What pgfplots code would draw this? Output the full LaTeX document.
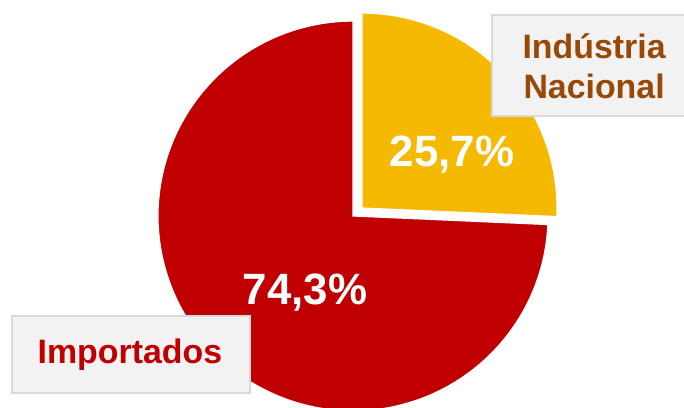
\documentclass[border=0pt]{standalone}
\usepackage{pgfplots}
\usepackage{pgfplotstable}
\usepackage{fontspec}
\setmainfont{Liberation Sans}
\pgfplotsset{compat=1.18}

\definecolor{pieRed}{HTML}{C00000}
\definecolor{pieGold}{HTML}{F4B900}
\definecolor{nacText}{HTML}{984807}
\definecolor{boxFill}{HTML}{F2F2F2}
\definecolor{boxLine}{HTML}{D9D9D9}

% share of the market, percent
\pgfplotstableread{
part value
Nacional 25.7
Importados 74.3
}\sharedata
\pgfplotstablegetelem{0}{value}\of\sharedata
\pgfmathsetmacro{\nacEnd}{90-3.6*\pgfplotsretval}

\begin{document}
\begin{tikzpicture}
\begin{axis}[
    scale only axis,
    width=684bp, height=408bp,
    xmin=-1.810, xmax=1.697,
    ymin=-0.985, ymax=1.108,
    hide axis,
]
% Importados slice
\addplot[draw=white, line width=1.2pt, fill=pieRed, mark=none,
    domain=-270:\nacEnd, samples=120, variable=\t]
    ({cos(\t)}, {sin(\t)}) -- (axis cs:0,0) -- cycle;
% Industria Nacional slice, pulled out
\addplot[draw=white, line width=1.2pt, fill=pieGold, mark=none,
    domain=\nacEnd:90, samples=60, variable=\t]
    ({0.046+cos(\t)}, {0.041+sin(\t)}) -- (axis cs:0.046,0.041) -- cycle;

\node[text=white, font=\bfseries\fontsize{44}{50}\selectfont]
    at (axis cs:0.508,0.313) {25,7\%};
\node[text=white, font=\bfseries\fontsize{44}{50}\selectfont]
    at (axis cs:-0.246,-0.395) {74,3\%};

\draw[fill=boxFill, draw=boxLine, line width=1.5bp]
    (axis cs:0.713,1.031) rectangle (axis cs:1.75,0.513);
\node[text=nacText, align=center, font=\bfseries\fontsize{34}{40}\selectfont]
    at (axis cs:1.236,0.769) {Indústria\\Nacional};

\draw[fill=boxFill, draw=boxLine, line width=1.5bp]
    (axis cs:-1.749,-0.513) rectangle (axis cs:-0.528,-0.908);
\node[text=pieRed, font=\bfseries\fontsize{34}{40}\selectfont]
    at (axis cs:-1.144,-0.713) {Importados};
\end{axis}
\pgfresetboundingbox
\path (current axis.south west) rectangle (current axis.north east);
\end{tikzpicture}
\end{document}
